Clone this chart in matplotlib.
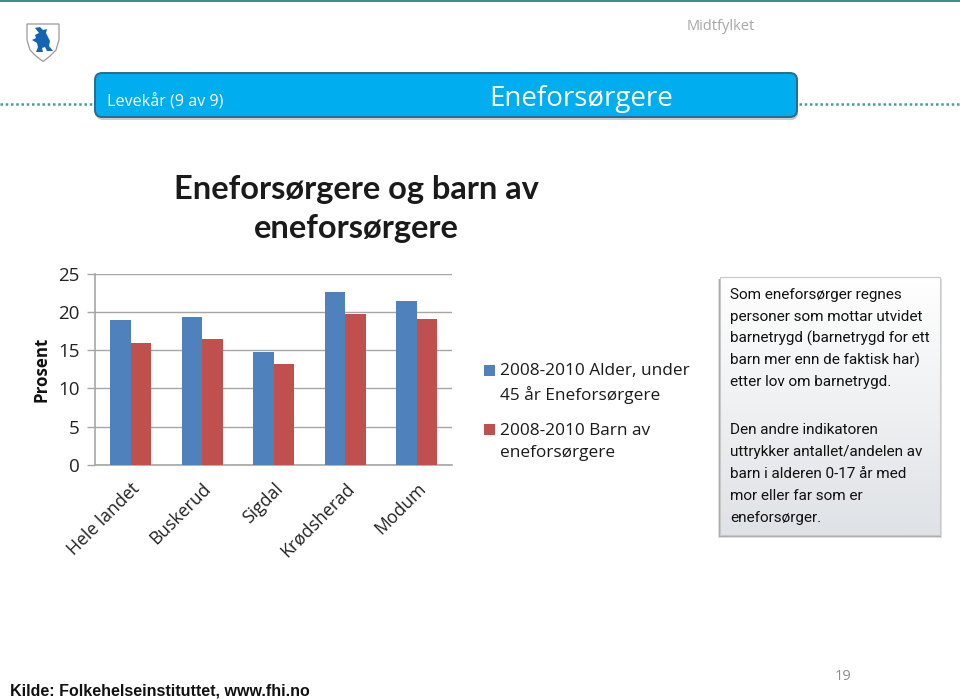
import numpy as np
import matplotlib
matplotlib.use('Agg')
import matplotlib.pyplot as plt
from matplotlib.patches import FancyBboxPatch, Polygon, Rectangle

# ── Data ──────────────────────────────────────────────────────────────────────
categories = ['Hele landet', 'Buskerud', 'Sigdal', 'Krødsherad', 'Modum']
alder_45   = [19.0, 19.4, 14.8, 22.7, 21.4]
barn       = [16.0, 16.5, 13.2, 19.7, 19.1]
y_ticks    = [0, 5, 10, 15, 20, 25]

legend_labels = ['2008-2010 Alder, under\n45 år Eneforsørgere',
                 '2008-2010 Barn av\neneforsørgere']
chart_title = 'Eneforsørgere og barn av\neneforsørgere'
info_1 = ['Som eneforsørger regnes', 'personer som mottar utvidet',
          'barnetrygd (barnetrygd for ett', 'barn mer enn de faktisk har)',
          'etter lov om barnetrygd.']
info_2 = ['Den andre indikatoren', 'uttrykker antallet/andelen av',
          'barn i alderen 0-17 år med', 'mor eller far som er', 'eneforsørger.']

BLUE = '#4f81bd'
RED  = '#c0504d'
W, H = 960, 699

fig = plt.figure(figsize=(W / 100, H / 100), dpi=100, facecolor='white')

# slide layer in pixel coordinates
bg = fig.add_axes([0, 0, 1, 1])
bg.set_xlim(0, W)
bg.set_ylim(H, 0)
bg.axis('off')

# ── Header ────────────────────────────────────────────────────────────────────
bg.add_patch(Rectangle((0, 0), W, 2.2, color='#3f8f86', lw=0))
bg.plot([0, 93], [103.5, 103.5], color='#4d9a94', lw=1.8, ls=(0, (1, 1.1)))
bg.plot([799, W], [103.5, 103.5], color='#4d9a94', lw=1.8, ls=(0, (1, 1.1)))
bg.text(721, 27, 'Midtfylket', family='Open Sans', fontsize=10.5, color='#a6a6a6',
        ha='center', va='center')

# shadow + banner
bg.add_patch(FancyBboxPatch((96, 75), 702, 45, boxstyle='round,pad=0,rounding_size=7',
                            fc='#b5b5b5', ec='none', alpha=0.7))
bg.add_patch(FancyBboxPatch((95, 73), 702, 44, boxstyle='round,pad=0,rounding_size=7',
                            fc='#00adef', ec='#2a6b8f', lw=1.4))
bg.text(107, 102, 'Levekår (9 av 9)', family='Open Sans', fontsize=11.6, color='white',
        ha='left', va='center')
bg.text(581, 99, 'Eneforsørgere', family='Open Sans', fontsize=20, color='white',
        ha='center', va='center')

# shield
shield = [(27, 24), (59, 24), (59, 40), (56, 50), (50, 56), (43, 61.5),
          (36, 56), (30, 50), (27, 40)]
bg.add_patch(Polygon(shield, closed=True, fc='white', ec='#9a9a9a', lw=0.9))
bear = [(35, 28), (40, 27), (43, 30), (47, 29), (46, 33), (50, 41), (49, 46), (53, 51),
        (47, 51), (45, 47), (42, 48), (43, 52), (36, 52), (38, 47), (37, 43), (32, 40),
        (36, 38), (35, 35), (39, 33)]
bg.add_patch(Polygon(bear, closed=True, fc='#1464b4', ec='none'))

# ── Chart ─────────────────────────────────────────────────────────────────────
bg.text(356, 209, chart_title, family='Lato', fontsize=23.5, fontweight='bold', color='#1a1a1a',
        ha='center', va='center', linespacing=1.45)

left, right, top, bottom = 95, 452.5, 274, 464.7
ax = fig.add_axes([left / W, 1 - bottom / H, (right - left) / W, (bottom - top) / H])
x = np.arange(len(categories))
bar_w = 0.29
ax.bar(x - bar_w / 2, alder_45, bar_w, color=BLUE, zorder=3, label=legend_labels[0])
ax.bar(x + bar_w / 2, barn, bar_w, color=RED, zorder=3, label=legend_labels[1])
ax.set_xlim(-0.5, len(categories) - 0.5)
ax.set_ylim(0, 25)
ax.set_yticks(y_ticks)
ax.set_yticklabels([str(v) for v in y_ticks], family='Open Sans', fontsize=13.5, color='#222222')
ax.set_xticks(x)
ax.set_xticklabels(categories, family='Open Sans', fontsize=12.7, color='#222222', rotation=45,
                   ha='right', rotation_mode='anchor')
ax.tick_params(axis='x', length=0, pad=11)
ax.tick_params(axis='y', length=6, width=1, color='#a6a6a6', pad=5)
ax.grid(axis='y', color='#a6a6a6', lw=1, zorder=0)
ax.set_axisbelow(True)
for s in ['top', 'right']:
    ax.spines[s].set_visible(False)
for s in ['left', 'bottom']:
    ax.spines[s].set_color('#a6a6a6')
    ax.spines[s].set_linewidth(1.2)
bg.text(41, 369, 'Prosent', family='Open Sans', fontsize=12.2, fontweight='bold', color='#111111',
        rotation=90, ha='center', va='center')

# legend drawn by hand so the swatches sit beside the first text line
for y_sw, y_txt, col, lab in [(370, 383.5, BLUE, legend_labels[0]),
                              (429, 442, RED, legend_labels[1])]:
    bg.add_patch(Rectangle((484, y_sw - 5.5), 11, 11, fc=col, ec='none'))
    bg.text(500, y_txt, lab, family='Open Sans', fontsize=12.4, color='#1a1a1a', ha='left',
            va='center', linespacing=1.5)

# ── Info box ──────────────────────────────────────────────────────────────────
bg.add_patch(Rectangle((718, 279), 224, 259, fc='#d2d2d2', ec='none', alpha=0.7))
bg.add_patch(Rectangle((719, 279), 222, 257.5, fc='#a0a0a0', ec='none', alpha=0.8))
grad = np.linspace(0, 1, 256)[:, None]
cm = matplotlib.colors.LinearSegmentedColormap.from_list('box', ['#ffffff', '#dfe2e6'])
bg.imshow(grad, cmap=cm, extent=(720, 940, 535, 277), aspect='auto', zorder=1.5)
bg.set_xlim(0, W)
bg.set_ylim(H, 0)
bg.add_patch(Rectangle((720, 277), 220, 258, fc='none', ec='#c8c8c8', lw=0.8, zorder=1.6))
for i, line in enumerate(info_1):
    bg.text(730, 295 + i * 21.7, line, family='Roboto', fontsize=11, color='#111111',
            va='center', zorder=2)
for i, line in enumerate(info_2):
    bg.text(730, 430 + i * 22.1, line, family='Roboto', fontsize=11, color='#111111',
            va='center', zorder=2)

# ── Footer ────────────────────────────────────────────────────────────────────
bg.text(10, 691.5, 'Kilde: Folkehelseinstituttet, www.fhi.no', family='Liberation Sans', fontsize=11.5,
        fontweight='bold', color='#111111', va='center')
bg.text(843, 677, '19', family='Open Sans', fontsize=10.5, color='#8c8c8c', ha='center', va='center')

fig.savefig('out.png', dpi=100, facecolor='white')
